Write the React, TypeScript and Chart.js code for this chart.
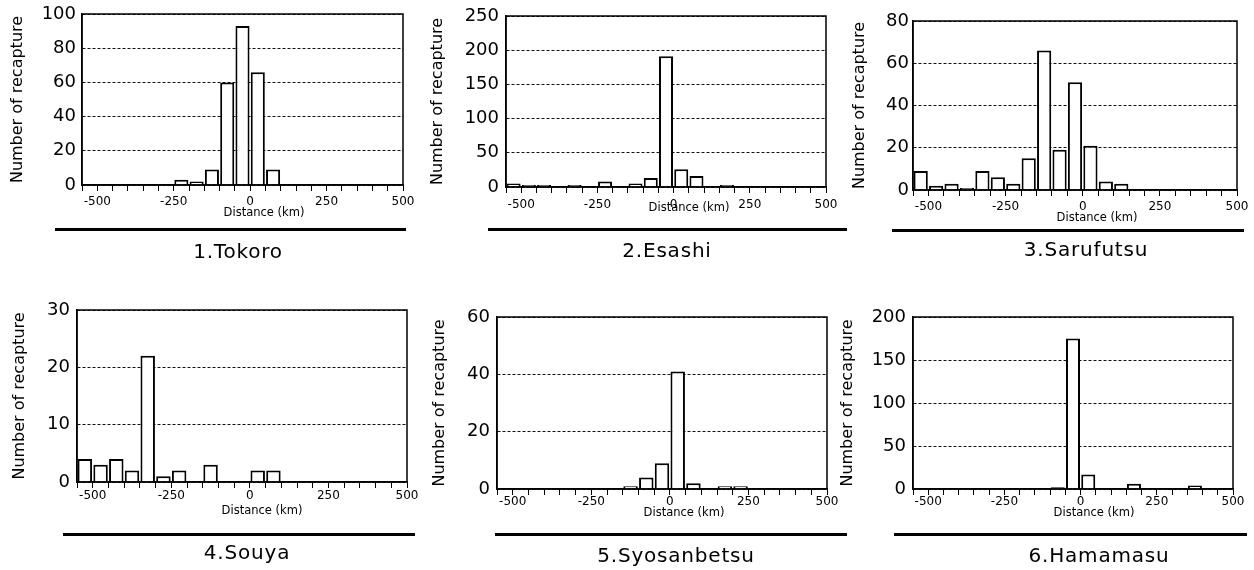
import React, { useEffect, useRef } from 'react';
import { Chart, registerables } from 'chart.js';

Chart.register(...registerables);
Chart.defaults.font.family = "'DejaVu Sans', sans-serif";

// ---------- data ----------
const binStarts = [-550, -500, -450, -400, -350, -300, -250, -200, -150, -100, -50, 0, 50, 100, 150, 200, 250, 300, 350, 400, 450];
const binWidth = 50;
const xMin = -550;
const xMax = 500;
const xLabelValues = [-500, -250, 0, 250, 500];

const tokoro = [0, 0, 0, 0, 0, 0, 3, 2, 9, 60, 93, 66, 9, 0, 0, 0, 0, 0, 0, 0, 0];
const esashi = [5, 3, 3, 0, 3, 0, 8, 0, 5, 13, 191, 26, 16, 0, 3, 0, 0, 0, 0, 0, 0];
const sarufutsu = [9, 2, 3, 1, 9, 6, 3, 15, 66, 19, 51, 21, 4, 3, 0, 0, 0, 0, 0, 0, 0];
const souya = [4, 3, 4, 2, 22, 1, 2, 0, 3, 0, 0, 2, 2, 0, 0, 0, 0, 0, 0, 0, 0];
const syosanbetsu = [0, 0, 0, 0, 0, 0, 0, 0, 1, 4, 9, 41, 2, 0, 1, 1, 0, 0, 0, 0, 0];
const hamamasu = [0, 0, 0, 0, 0, 0, 0, 0, 0, 2, 175, 17, 0, 0, 6, 0, 0, 0, 4, 0, 0];

const siteCounts = [tokoro, esashi, sarufutsu, souya, syosanbetsu, hamamasu];
const siteNames = ['1.Tokoro', '2.Esashi', '3.Sarufutsu', '4.Souya', '5.Syosanbetsu', '6.Hamamasu'];
const yMaxes = [100, 250, 80, 30, 60, 200];
const ySteps = [20, 50, 20, 10, 20, 50];

const yTitle = 'Number of recapture';
const xTitle = 'Distance (km)';

// ---------- layout (page pixels) ----------
const panelLayout = [
  { cx: 8, cy: 0, cw: 410, ch: 212, plotL: 82, plotR: 403, plotT: 14, plotB: 185, yPad: 6, xPad: 4, xlabX: 264, xlabY: 213, lineY: 229, lineX1: 55, lineX2: 406, titleX: 238, titleY: 251 },
  { cx: 428, cy: 0, cw: 412, ch: 214, plotL: 506, plotR: 826, plotT: 16, plotB: 187, yPad: 7, xPad: 5, xlabX: 689, xlabY: 208, lineY: 229, lineX1: 488, lineX2: 847, titleX: 667, titleY: 250 },
  { cx: 850, cy: 0, cw: 404, ch: 217, plotL: 913, plotR: 1237, plotT: 21, plotB: 190, yPad: 4, xPad: 4, xlabX: 1097, xlabY: 218, lineY: 230, lineX1: 892, lineX2: 1244, titleX: 1086, titleY: 249 },
  { cx: 10, cy: 290, cw: 410, ch: 222, plotL: 77, plotR: 407, plotT: 310, plotB: 482, yPad: 7, xPad: 1, xlabX: 262, xlabY: 511, lineY: 534, lineX1: 63, lineX2: 415, titleX: 247, titleY: 552 },
  { cx: 430, cy: 290, cw: 410, ch: 229, plotL: 497, plotR: 827, plotT: 317, plotB: 489, yPad: 7, xPad: 0, xlabX: 684, xlabY: 513, lineY: 534, lineX1: 495, lineX2: 847, titleX: 676, titleY: 555 },
  { cx: 838, cy: 290, cw: 416, ch: 229, plotL: 913, plotR: 1233, plotT: 317, plotB: 489, yPad: 7, xPad: 0, xlabX: 1094, xlabY: 513, lineY: 534, lineX1: 894, lineX2: 1247, titleX: 1099, titleY: 555 },
];

const framePlugin = {
  id: 'frame',
  afterDraw(chart: any) {
    const { ctx, chartArea: a } = chart;
    ctx.save();
    ctx.setLineDash([]);
    ctx.strokeStyle = '#000';
    ctx.lineWidth = 1.5;
    ctx.strokeRect(a.left, a.top, a.right - a.left, a.bottom - a.top);
    ctx.restore();
  },
};

function Panel({ idx }: { idx: number }) {
  const ref = useRef<HTMLCanvasElement>(null);
  const p = panelLayout[idx];

  useEffect(() => {
    const canvas = ref.current;
    if (!canvas) return;
    const counts = siteCounts[idx];
    const data = binStarts.map((s, i) => ({ x: s + binWidth / 2, y: counts[i] > 0 ? counts[i] : null }));
    const chart = new Chart(canvas, {
      type: 'bar',
      data: {
        datasets: [
          {
            data: data as any,
            backgroundColor: '#ffffff',
            borderColor: '#000000',
            borderWidth: 2,
            barPercentage: 0.92,
            categoryPercentage: 1,
          },
        ],
      },
      options: {
        animation: false,
        responsive: false,
        devicePixelRatio: 1,
        layout: {
          padding: { left: 0, top: p.plotT - p.cy, right: p.cx + p.cw - p.plotR, bottom: 0 },
        },
        plugins: { legend: { display: false }, tooltip: { enabled: false } },
        scales: {
          x: {
            type: 'linear',
            min: xMin,
            max: xMax,
            offset: false,
            ticks: {
              stepSize: binWidth,
              autoSkip: false,
              maxRotation: 0,
              minRotation: 0,
              color: '#000',
              font: { size: 12 },
              padding: p.xPad,
              callback: (v: any) => (xLabelValues.includes(Number(v)) ? String(v) : ''),
            },
            grid: {
              offset: false,
              drawOnChartArea: false,
              drawTicks: true,
              tickLength: 6,
              tickColor: '#000',
              tickWidth: 1,
            },
            border: { color: '#000', width: 1.5 },
            afterFit: (s: any) => {
              s.height = p.cy + p.ch - p.plotB;
              s.paddingLeft = 0;
              s.paddingRight = 0;
            },
          },
          y: {
            min: 0,
            max: yMaxes[idx],
            ticks: { stepSize: ySteps[idx], color: '#000', font: { size: 18 }, padding: p.yPad },
            grid: { color: '#111', lineWidth: 1, drawTicks: false },
            border: { color: '#000', width: 1.5, dash: [3, 2] },
            title: { display: true, text: yTitle, color: '#000', font: { size: 16 }, padding: 0 },
            afterFit: (s: any) => {
              s.width = p.plotL - p.cx;
              s.paddingTop = 0;
              s.paddingBottom = 0;
            },
          },
        },
      } as any,
      plugins: [framePlugin],
    });
    return () => chart.destroy();
  }, [idx]);

  return (
    <>
      <canvas
        ref={ref}
        width={p.cw}
        height={p.ch}
        style={{ position: 'absolute', left: p.cx, top: p.cy, width: p.cw, height: p.ch }}
      />
      <div
        style={{
          position: 'absolute',
          left: p.xlabX,
          top: p.xlabY,
          transform: 'translate(-50%, -50%)',
          fontSize: 11.5,
          lineHeight: 1,
          whiteSpace: 'nowrap',
          color: '#000',
        }}
      >
        {xTitle}
      </div>
      <div
        style={{
          position: 'absolute',
          left: p.lineX1,
          top: p.lineY - 1.5,
          width: p.lineX2 - p.lineX1,
          height: 3,
          background: '#000',
        }}
      />
      <div
        style={{
          position: 'absolute',
          left: p.titleX,
          top: p.titleY,
          transform: 'translate(-50%, -50%)',
          fontSize: 20,
          letterSpacing: 0.8,
          lineHeight: 1,
          whiteSpace: 'nowrap',
          color: '#000',
        }}
      >
        {siteNames[idx]}
      </div>
    </>
  );
}

export default function App() {
  return (
    <div
      style={{
        position: 'absolute',
        left: 0,
        top: 0,
        width: 1254,
        height: 570,
        background: '#fff',
        overflow: 'hidden',
        fontFamily: "'DejaVu Sans', sans-serif",
      }}
    >
      {siteNames.map((_, i) => (
        <Panel key={i} idx={i} />
      ))}
    </div>
  );
}
